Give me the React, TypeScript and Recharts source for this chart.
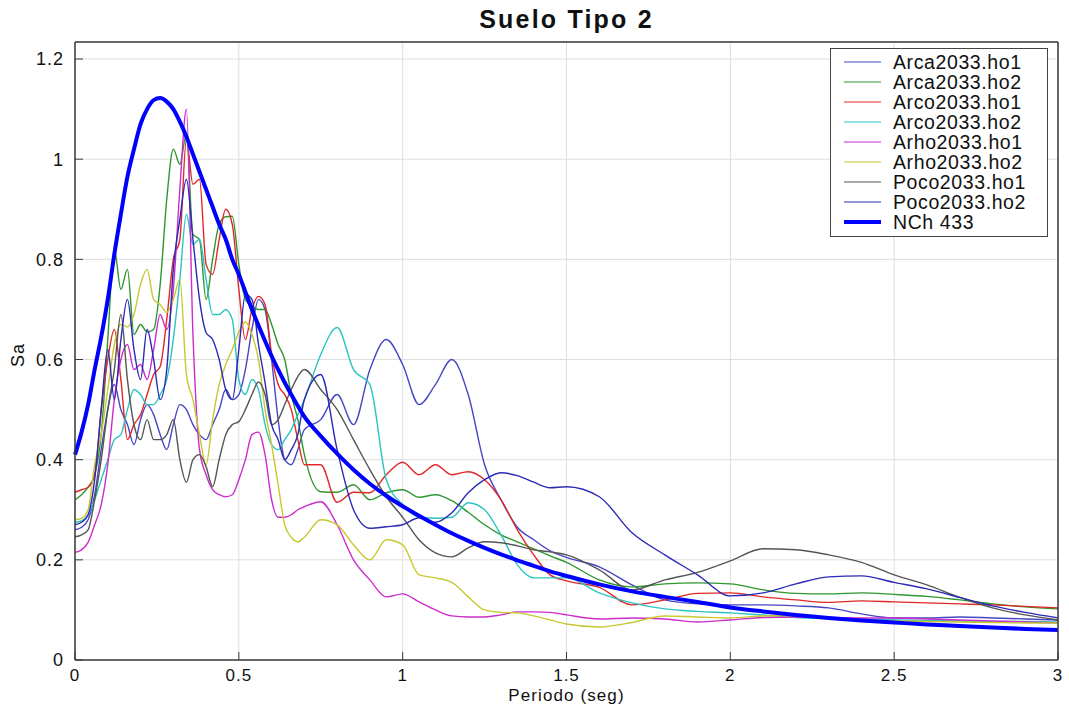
import React from 'react';
import { LineChart, Line, XAxis, YAxis, CartesianGrid } from 'recharts';

// periodo (seg)
const periods = [
  0, 0.02, 0.04, 0.06, 0.08, 0.1, 0.12, 0.14, 0.16, 0.18, 0.2, 0.22, 0.24, 0.26, 0.28, 0.3, 0.32, 0.34,
  0.36, 0.38, 0.4, 0.42, 0.44, 0.46, 0.48, 0.5, 0.52, 0.54, 0.56, 0.58, 0.6, 0.62, 0.64, 0.66, 0.68, 0.7,
  0.75, 0.8, 0.85, 0.9, 0.95, 1, 1.05, 1.1, 1.15, 1.2, 1.25, 1.3, 1.35, 1.4, 1.45, 1.5,
  1.6, 1.7, 1.8, 1.9, 2, 2.1, 2.2, 2.3, 2.4, 2.5, 2.6, 2.7, 2.8, 2.9, 3,
];

const arcaHo1 = [
  0.26, 0.265, 0.28, 0.33, 0.42, 0.5, 0.55, 0.5, 0.47, 0.43, 0.48, 0.51, 0.49, 0.45, 0.42, 0.47, 0.51, 0.5,
  0.47, 0.45, 0.44, 0.47, 0.5, 0.54, 0.52, 0.53, 0.58, 0.66, 0.72, 0.7, 0.6, 0.48, 0.4, 0.39, 0.42, 0.46,
  0.48, 0.53, 0.47, 0.58, 0.64, 0.59, 0.51, 0.55, 0.6, 0.53, 0.39, 0.32, 0.265, 0.24, 0.218, 0.205,
  0.186, 0.15, 0.12, 0.112, 0.11, 0.11, 0.108, 0.104, 0.092, 0.084, 0.084, 0.086, 0.084, 0.082, 0.08,
];
const arcaHo2 = [
  0.32, 0.33, 0.345, 0.37, 0.45, 0.64, 0.82, 0.74, 0.78, 0.65, 0.67, 0.655, 0.66, 0.75, 0.92, 1.02, 0.99, 1.05,
  0.85, 0.84, 0.72, 0.8, 0.87, 0.885, 0.886, 0.79, 0.72, 0.706, 0.7, 0.7, 0.67, 0.63, 0.6, 0.53, 0.48, 0.41,
  0.336, 0.335, 0.35, 0.32, 0.334, 0.34, 0.325, 0.33, 0.318, 0.295, 0.27, 0.25, 0.236, 0.222, 0.208, 0.195,
  0.16, 0.146, 0.152, 0.154, 0.152, 0.14, 0.133, 0.132, 0.134, 0.131, 0.127, 0.12, 0.112, 0.106, 0.102,
];
const arcoHo1 = [
  0.335, 0.34, 0.345, 0.37, 0.5, 0.6, 0.66, 0.56, 0.44, 0.47, 0.49, 0.53, 0.57, 0.586, 0.68, 0.8, 0.84, 1.04,
  0.95, 0.96, 0.79, 0.77, 0.84, 0.9, 0.87, 0.74, 0.64, 0.7, 0.726, 0.71, 0.61, 0.55, 0.53, 0.5, 0.44, 0.39,
  0.39, 0.315, 0.335, 0.334, 0.37, 0.395, 0.37, 0.39, 0.37, 0.376, 0.36, 0.32, 0.26, 0.21, 0.17, 0.158,
  0.145, 0.11, 0.12, 0.133, 0.134, 0.126, 0.12, 0.115, 0.118, 0.116, 0.114, 0.112, 0.11, 0.107, 0.104,
];
const arcoHo2 = [
  0.275, 0.278, 0.29, 0.32, 0.36, 0.4, 0.44, 0.45, 0.5, 0.54, 0.53, 0.51, 0.51, 0.53, 0.56, 0.64, 0.76, 0.89,
  0.83, 0.84, 0.76, 0.69, 0.69, 0.7, 0.68, 0.56, 0.53, 0.56, 0.54, 0.47, 0.43, 0.42, 0.44, 0.46, 0.49, 0.52,
  0.61, 0.664, 0.58, 0.55, 0.36, 0.31, 0.285, 0.283, 0.285, 0.314, 0.3, 0.25, 0.19, 0.164, 0.164, 0.164,
  0.134, 0.114, 0.102, 0.097, 0.094, 0.09, 0.085, 0.083, 0.082, 0.08, 0.079, 0.078, 0.077, 0.077, 0.076,
];
const arhoHo1 = [
  0.215, 0.22, 0.235, 0.27, 0.31, 0.39, 0.52, 0.6, 0.63, 0.58, 0.59, 0.56, 0.62, 0.69, 0.66, 0.74, 0.94, 1.1,
  0.65, 0.42, 0.37, 0.34, 0.33, 0.326, 0.33, 0.36, 0.4, 0.45, 0.455, 0.41, 0.32, 0.285, 0.285, 0.29, 0.3, 0.306,
  0.316, 0.27, 0.2, 0.16, 0.126, 0.132, 0.116, 0.1, 0.088, 0.086, 0.086, 0.09, 0.096, 0.096, 0.095, 0.09,
  0.082, 0.084, 0.082, 0.076, 0.08, 0.085, 0.086, 0.085, 0.084, 0.084, 0.082, 0.08, 0.078, 0.076, 0.074,
];
const arhoHo2 = [
  0.28, 0.283, 0.3, 0.39, 0.45, 0.54, 0.63, 0.67, 0.665, 0.69, 0.75, 0.78, 0.72, 0.71, 0.694, 0.72, 0.76, 0.57,
  0.52, 0.45, 0.39, 0.48, 0.55, 0.59, 0.62, 0.655, 0.675, 0.65, 0.6, 0.5, 0.43, 0.35, 0.27, 0.245, 0.236, 0.245,
  0.28, 0.27, 0.23, 0.2, 0.24, 0.23, 0.17, 0.164, 0.155, 0.126, 0.1, 0.095, 0.094, 0.088, 0.08, 0.072,
  0.066, 0.075, 0.088, 0.086, 0.084, 0.088, 0.089, 0.085, 0.08, 0.078, 0.077, 0.076, 0.075, 0.074, 0.074,
];
const pocoHo1 = [
  0.246, 0.25, 0.26, 0.32, 0.4, 0.5, 0.58, 0.69, 0.56, 0.47, 0.44, 0.48, 0.44, 0.44, 0.45, 0.48, 0.4, 0.355,
  0.4, 0.41, 0.386, 0.346, 0.4, 0.45, 0.47, 0.476, 0.5, 0.53, 0.555, 0.53, 0.47, 0.48, 0.51, 0.54, 0.566, 0.58,
  0.54, 0.5, 0.44, 0.38, 0.326, 0.285, 0.24, 0.214, 0.206, 0.224, 0.236, 0.234, 0.228, 0.22, 0.216, 0.21,
  0.18, 0.14, 0.16, 0.175, 0.198, 0.222, 0.22, 0.21, 0.195, 0.17, 0.15, 0.125, 0.104, 0.09, 0.08,
];
const pocoHo2 = [
  0.27, 0.275, 0.29, 0.36, 0.5, 0.62, 0.52, 0.64, 0.72, 0.62, 0.56, 0.66, 0.6, 0.52, 0.58, 0.78, 0.88, 0.96,
  0.84, 0.72, 0.654, 0.64, 0.6, 0.54, 0.52, 0.62, 0.73, 0.72, 0.63, 0.554, 0.47, 0.44, 0.4, 0.42, 0.45, 0.52,
  0.57, 0.42, 0.3, 0.263, 0.266, 0.27, 0.284, 0.275, 0.294, 0.334, 0.36, 0.374, 0.368, 0.355, 0.344, 0.346,
  0.326, 0.254, 0.21, 0.17, 0.128, 0.134, 0.152, 0.166, 0.168, 0.155, 0.142, 0.125, 0.108, 0.095, 0.084,
];
// espectro de diseño NCh 433
const nch433 = [
  0.41, 0.455, 0.51, 0.58, 0.645, 0.72, 0.81, 0.89, 0.965, 1.02, 1.07, 1.1, 1.118, 1.122, 1.115, 1.1, 1.075, 1.045,
  1.01, 0.975, 0.94, 0.905, 0.87, 0.84, 0.8, 0.77, 0.735, 0.7, 0.668, 0.637, 0.607, 0.58, 0.554, 0.53, 0.507, 0.486,
  0.447, 0.412, 0.38, 0.352, 0.328, 0.307, 0.288, 0.27, 0.253, 0.238, 0.224, 0.211, 0.199, 0.188, 0.177, 0.168,
  0.151, 0.137, 0.126, 0.116, 0.105, 0.097, 0.09, 0.084, 0.079, 0.075, 0.071, 0.068, 0.065, 0.062, 0.06,
];

const xTicks = [0, 0.5, 1, 1.5, 2, 2.5, 3];
const yTicks = [0, 0.2, 0.4, 0.6, 0.8, 1, 1.2];

const series = [
  { key: 'arcaHo1', name: 'Arca2033.ho1', values: arcaHo1, color: '#4646c4', width: 1.4 },
  { key: 'arcaHo2', name: 'Arca2033.ho2', values: arcaHo2, color: '#2f962f', width: 1.4 },
  { key: 'arcoHo1', name: 'Arco2033.ho1', values: arcoHo1, color: '#e02828', width: 1.4 },
  { key: 'arcoHo2', name: 'Arco2033.ho2', values: arcoHo2, color: '#2cc3c3', width: 1.4 },
  { key: 'arhoHo1', name: 'Arho2033.ho1', values: arhoHo1, color: '#cc2ccc', width: 1.4 },
  { key: 'arhoHo2', name: 'Arho2033.ho2', values: arhoHo2, color: '#c8c830', width: 1.4 },
  { key: 'pocoHo1', name: 'Poco2033.ho1', values: pocoHo1, color: '#555555', width: 1.4 },
  { key: 'pocoHo2', name: 'Poco2033.ho2', values: pocoHo2, color: '#2a2ab4', width: 1.4 },
  { key: 'nch433', name: 'NCh 433', values: nch433, color: '#0000ff', width: 4 },
];

const data = periods.map((t, i) => {
  const row: Record<string, number> = { t };
  series.forEach((s) => {
    row[s.key] = s.values[i];
  });
  return row;
});

const font = '"Liberation Sans", Arial, sans-serif';
const axisColor = '#3a3a3a';

const LegendBox = () => (
  <div
    style={{
      position: 'absolute',
      left: 830,
      top: 48,
      border: '1.5px solid #444',
      background: '#fff',
      padding: '3px 0 4px 0',
      width: 218,
      boxSizing: 'border-box',
      fontFamily: font,
    }}
  >
    {series.map((s) => (
      <div key={s.key} style={{ display: 'flex', alignItems: 'center', height: 20 }}>
        <svg width={62} height={20}>
          <line x1={13} x2={50} y1={10} y2={10} stroke={s.color} strokeWidth={s.width === 4 ? 4 : 1.2} />
        </svg>
        <span style={{ fontSize: 19.5, letterSpacing: 0.6, color: '#111', lineHeight: '20px' }}>{s.name}</span>
      </div>
    ))}
  </div>
);

export default function App() {
  return (
    <div style={{ position: 'absolute', left: 0, top: 0, width: 1069, height: 711, background: '#fff' }}>
      <LineChart width={1069} height={711} data={data} margin={{ top: 0, right: 0, bottom: 0, left: 0 }}>
        <CartesianGrid stroke="#dedede" strokeWidth={1} />
        <XAxis
          dataKey="t"
          type="number"
          domain={[0, 3]}
          ticks={xTicks}
          height={51}
          tickSize={8}
          tickMargin={1}
          axisLine={{ stroke: axisColor, strokeWidth: 1.5 }}
          tickLine={{ stroke: axisColor, transform: 'translate(0,-8)' }}
          tick={{ fill: '#111', fontSize: 17, fontFamily: font, letterSpacing: 1 }}
        />
        <XAxis
          xAxisId="top"
          orientation="top"
          dataKey="t"
          type="number"
          domain={[0, 3]}
          ticks={xTicks}
          height={42}
          tickSize={8}
          tick={false}
          axisLine={{ stroke: axisColor, strokeWidth: 1.5 }}
          tickLine={{ stroke: axisColor, transform: 'translate(0,8)' }}
        />
        <YAxis
          type="number"
          domain={[0, 1.234]}
          ticks={yTicks}
          width={75}
          tickSize={8}
          tickMargin={3}
          axisLine={{ stroke: axisColor, strokeWidth: 1.5 }}
          tickLine={{ stroke: axisColor, transform: 'translate(8,0)' }}
          tick={{ fill: '#111', fontSize: 18, fontFamily: font, letterSpacing: 1 }}
        />
        <YAxis
          yAxisId="right"
          orientation="right"
          type="number"
          domain={[0, 1.234]}
          ticks={yTicks}
          width={11}
          tickSize={8}
          tick={false}
          axisLine={{ stroke: axisColor, strokeWidth: 1.5 }}
          tickLine={{ stroke: axisColor, transform: 'translate(-8,0)' }}
        />
        {series.map((s) => (
          <Line
            key={s.key}
            dataKey={s.key}
            name={s.name}
            type="monotone"
            stroke={s.color}
            strokeWidth={s.width}
            dot={false}
            activeDot={false}
            isAnimationActive={false}
          />
        ))}
      </LineChart>
      <LegendBox />
      <div
        style={{
          position: 'absolute',
          left: 75,
          width: 983,
          top: 5,
          textAlign: 'center',
          fontFamily: font,
          fontWeight: 'bold',
          fontSize: 25,
          letterSpacing: 2.2,
          color: '#111',
        }}
      >
        Suelo Tipo 2
      </div>
      <div
        style={{
          position: 'absolute',
          left: 75,
          width: 983,
          top: 686,
          textAlign: 'center',
          fontFamily: font,
          fontSize: 17,
          lineHeight: '20px',
          letterSpacing: 1.1,
          color: '#111',
        }}
      >
        Periodo (seg)
      </div>
      <div
        style={{
          position: 'absolute',
          left: 18,
          top: 355,
          transform: 'translate(-50%, -50%) rotate(-90deg)',
          fontFamily: font,
          fontSize: 18,
          letterSpacing: 1,
          color: '#111',
        }}
      >
        Sa
      </div>
    </div>
  );
}
